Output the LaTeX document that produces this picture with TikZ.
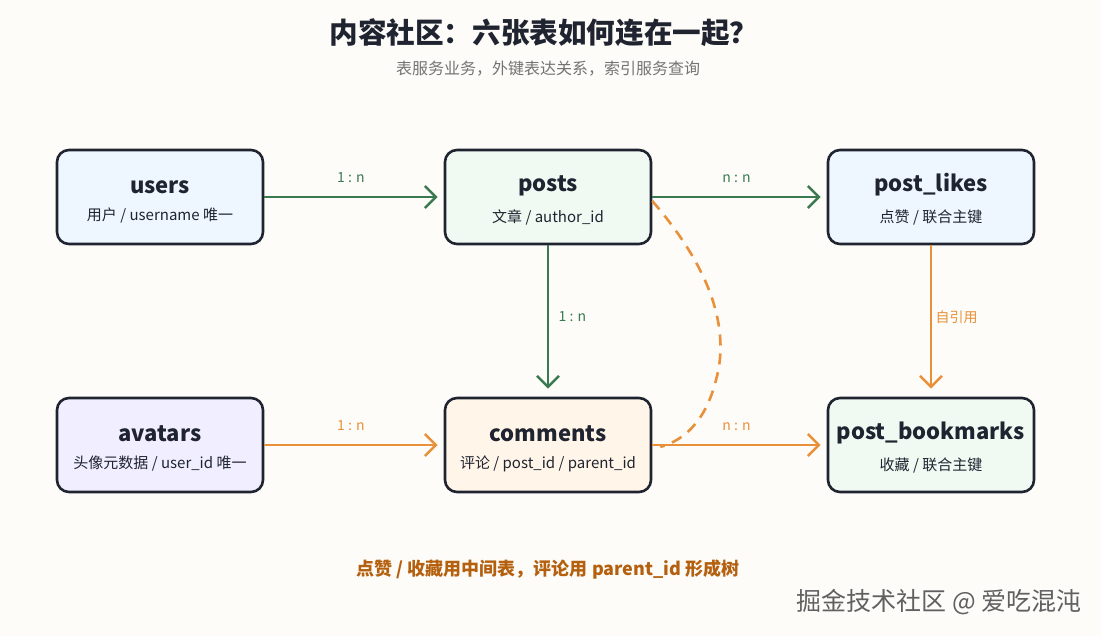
\documentclass[tikz,border=0pt]{standalone}
\usepackage{fontspec}
\setmainfont{Noto Sans CJK SC}
\usepackage{xcolor}
\usepackage{tikz}
\usetikzlibrary{arrows.meta}
\definecolor{bgpaper}{HTML}{FDFCF9}
\definecolor{inkdark}{HTML}{1F2430}
\definecolor{linkgreen}{HTML}{3B7A50}
\definecolor{linkorange}{HTML}{E8913A}
\definecolor{notebrown}{HTML}{B4600E}
\definecolor{fillusers}{HTML}{EEF7FF}
\definecolor{fillposts}{HTML}{F0FAF3}
\definecolor{filllikes}{HTML}{EEF6FF}
\definecolor{fillavatars}{HTML}{F1EFFF}
\definecolor{fillcomments}{HTML}{FFF5E8}
\definecolor{fillbookmarks}{HTML}{F0FAF2}
\tikzstyle{tablebox} = [rectangle, rounded corners=12pt,
minimum width=206pt,
minimum height=94pt,
line width=2.6pt,
draw=inkdark,
align=center,
text=inkdark]
\tikzstyle{relgreen} = [line width=2.6pt, draw=linkgreen, -{Straight Barb[length=11pt,width=22pt,line width=2.6pt]}]
\tikzstyle{relorange} = [line width=2.6pt, draw=linkorange, -{Straight Barb[length=11pt,width=22pt,line width=2.6pt]}]
\tikzstyle{rellabel} = [font=\fontsize{14}{16}\selectfont]
\newcommand{\tabletitle}[1]{{\fontsize{22}{26}\selectfont\bfseries\rule{0pt}{23pt}#1}\\[13pt]}
\newcommand{\tablenote}[1]{{\fontsize{15}{18}\selectfont #1}}

\begin{document}
\begin{tikzpicture}[x=1pt, y=1pt, node distance=386pt]
\fill[bgpaper] (0,0) rectangle (1101,-636);
\useasboundingbox (0,0) rectangle (1101,-636);

% heading
\node (title) at (544,-33) [text=inkdark, font=\fontsize{28.6}{34}\selectfont\bfseries] {内容社区：六张表如何连在一起？};
\node (subtitle) at (548,-69) [text=gray!90!black, font=\fontsize{16}{19}\selectfont] {表服务业务，外键表达关系，索引服务查询};

% tables
\node (users) at (160,-197) [tablebox, fill=fillusers] {\tabletitle{users}\tablenote{用户 / username 唯一}};
\node (posts) [tablebox, right of=users, xshift=2pt, fill=fillposts] {\tabletitle{posts}\tablenote{文章 / author\_id}};
\node (likes) [tablebox, right of=posts, xshift=-3pt, fill=filllikes] {\tabletitle{post\_likes}\tablenote{点赞 / 联合主键}};
\node (avatars) [tablebox, below of=users, node distance=248pt, fill=fillavatars] {\tabletitle{avatars}\tablenote{头像元数据 / user\_id 唯一}};
\node (comments) [tablebox, below of=posts, node distance=248pt, fill=fillcomments] {\tabletitle{comments}\tablenote{评论 / post\_id / parent\_id}};
\node (bookmarks) [tablebox, below of=likes, node distance=248pt, fill=fillbookmarks] {\tabletitle{post\_bookmarks}\tablenote{收藏 / 联合主键}};

% relations
\draw [relgreen] (users.east) -- node[rellabel, text=linkgreen, above=10pt] {1 : n} ([xshift=-6pt]posts.west);
\draw [relgreen] (posts.east) -- node[rellabel, text=linkgreen, above=10pt] {n : n} ([xshift=-6pt]likes.west);
\draw [relgreen] (posts.south) -- node[rellabel, text=linkgreen, right=6pt] {1 : n} ([yshift=8pt]comments.north);
\draw [relorange] (likes.south) -- node[rellabel, text=linkorange, right=0pt] {自引用} ([yshift=8pt]bookmarks.north);
\draw [relorange] (avatars.east) -- node[rellabel, text=linkorange, above=10pt] {1 : n} ([xshift=-6pt]comments.west);
\draw [relorange] (comments.east) -- node[rellabel, text=linkorange, above=10pt] {n : n} ([xshift=-6pt]bookmarks.west);
\draw [line width=2.6pt, draw=linkorange, dash pattern=on 11pt off 8pt] ([yshift=-4pt]posts.east) .. controls (712,-270) and (730,-330) .. (716,-380) .. controls (706,-420) and (685,-440) .. ([xshift=8pt,yshift=-2pt]comments.east);

% footer
\node (note) at (548,-570) [text=notebrown, font=\fontsize{18}{21}\selectfont\bfseries] {点赞 / 收藏用中间表，评论用 parent\_id 形成树};
\node (mark) at (939,-602) [text=gray!75!black, font=\fontsize{25}{29}\selectfont] {掘金技术社区 @ 爱吃混沌};

\end{tikzpicture}
\end{document}
